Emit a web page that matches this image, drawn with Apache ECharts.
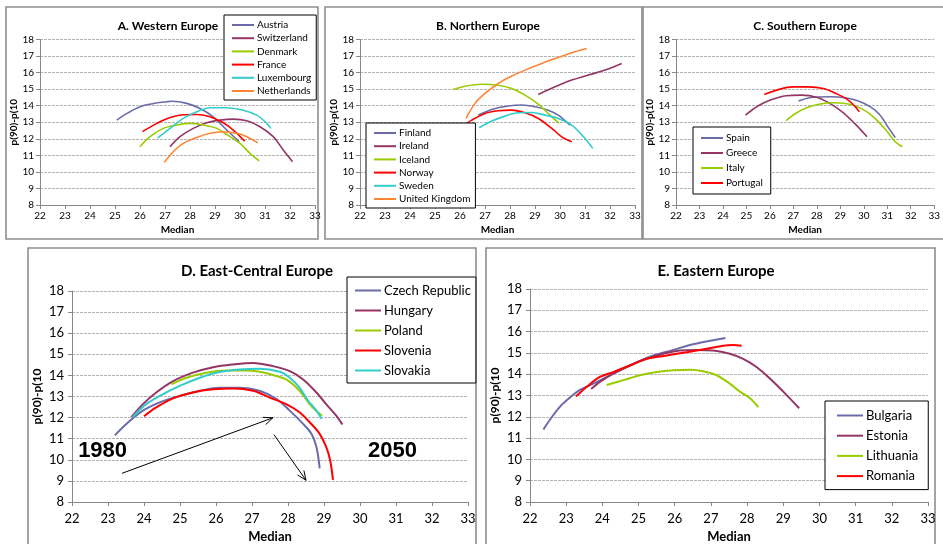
<!DOCTYPE html>
<html><head><meta charset="utf-8">
<script src="https://cdn.jsdelivr.net/npm/echarts@6/dist/echarts.min.js"></script>
<style>html,body{margin:0;padding:0;background:#fff}#c{width:943px;height:544px}</style>
</head><body><div id="c"></div>
<script>
// ---- data: [median, p90-p10] ----
const panelTitles = ["A. Western Europe","B. Northern Europe","C. Southern Europe","D. East-Central Europe","E. Eastern Europe"];
const xTicks = [22,33];
const yTicks = [8,18];
const countriesA = ["Austria","Switzerland","Denmark","France","Luxembourg","Netherlands"];
const countriesB = ["Finland","Ireland","Iceland","Norway","Sweden","United Kingdom"];
const countriesC = ["Spain","Greece","Italy","Portugal"];
const countriesD = ["Czech Republic","Hungary","Poland","Slovenia","Slovakia"];
const countriesE = ["Bulgaria","Estonia","Lithuania","Romania"];

const austria = [[25.07,13.13],[25.5,13.55],[26,13.94],[26.5,14.12],[27.07,14.24],[27.3,14.27],[27.87,14.14],[28.4,13.83],[28.93,13.33],[29.47,12.53],[29.97,11.82]];
const switzerland = [[27.2,11.52],[27.6,12.13],[28.13,12.63],[28.67,12.97],[29.2,13.13],[29.73,13.19],[30.27,13.09],[30.8,12.73],[31.33,12.13],[31.73,11.32],[32.1,10.62]];
const denmark = [[26,11.52],[26.4,12.13],[26.93,12.63],[27.47,12.83],[28,12.93],[28.53,12.83],[29.07,12.63],[29.6,12.13],[30,11.72],[30.4,11.12],[30.77,10.66]];
const france = [[26.1,12.43],[26.67,12.93],[27.2,13.29],[27.73,13.45],[28.27,13.47],[28.8,13.33],[29.33,12.97],[29.73,12.53],[30.19,11.86]];
const luxembourg = [[26.71,12.06],[27.2,12.63],[27.73,13.23],[28.27,13.63],[28.8,13.88],[29.47,13.88],[30.13,13.73],[30.67,13.43],[31.07,12.93],[31.23,12.63]];
const netherlands = [[26.97,10.58],[27.33,11.22],[27.73,11.72],[28.27,12.08],[28.8,12.33],[29.33,12.43],[29.87,12.33],[30.27,12.13],[30.71,11.76]];

const finland = [[26.73,13.43],[27.27,13.77],[27.93,13.98],[28.47,14.04],[29,13.94],[29.53,13.73],[29.93,13.43],[30.4,12.82]];
const ireland = [[29.13,14.68],[29.8,15.14],[30.47,15.55],[31.13,15.85],[31.8,16.15],[32.47,16.55]];
const iceland = [[25.73,14.98],[26.2,15.18],[26.87,15.3],[27.53,15.24],[28.07,15.04],[28.6,14.64],[29.13,14.1],[29.53,13.53],[29.96,12.93]];
const norway = [[26,12.67],[26.47,13.13],[27,13.53],[27.53,13.69],[28.07,13.73],[28.6,13.57],[29.13,13.23],[29.67,12.63],[30.07,12.12],[30.47,11.82]];
const sweden = [[26.77,12.67],[27.27,13.07],[27.8,13.37],[28.33,13.57],[28.87,13.59],[29.4,13.43],[29.93,13.23],[30.47,12.83],[31,12.02],[31.31,11.42]];
const unitedKingdom = [[26.24,13.23],[26.6,14.14],[27,14.74],[27.53,15.34],[28.07,15.79],[28.6,16.15],[29.27,16.55],[29.93,16.91],[30.6,17.26],[31.07,17.46]];

const spain = [[27.22,14.28],[27.75,14.5],[28.55,14.54],[29.21,14.48],[29.74,14.3],[30.27,13.94],[30.67,13.47],[31.07,12.63],[31.34,12.08]];
const greece = [[24.96,13.43],[25.49,13.98],[26.02,14.34],[26.69,14.6],[27.35,14.64],[28.02,14.5],[28.55,14.14],[29.08,13.63],[29.61,12.93],[30.14,12.12]];
const italy = [[26.69,13.09],[27.09,13.53],[27.62,13.9],[28.15,14.1],[28.68,14.18],[29.34,14.1],[29.88,13.84],[30.41,13.33],[30.94,12.53],[31.34,11.82],[31.64,11.52]];
const portugal = [[25.76,14.68],[26.29,14.94],[26.95,15.14],[27.62,15.14],[28.28,15.04],[28.81,14.74],[29.28,14.4],[29.61,13.98],[29.81,13.63]];

const czechRepublic = [[23.19,11.16],[23.51,11.7],[23.97,12.33],[24.44,12.72],[24.99,13.03],[25.55,13.27],[26.1,13.42],[26.66,13.42],[27.21,13.27],[27.68,12.88],[28.05,12.33],[28.42,11.7],[28.65,11.23],[28.79,10.61],[28.88,9.59]];
const hungary = [[23.65,12.02],[23.97,12.64],[24.34,13.19],[24.81,13.73],[25.36,14.13],[25.92,14.39],[26.47,14.52],[27.03,14.59],[27.58,14.44],[28.05,14.2],[28.42,13.81],[28.79,13.19],[29.06,12.64],[29.34,12.09],[29.51,11.67]];
const poland = [[24.76,13.58],[25.18,13.89],[25.73,14.13],[26.29,14.23],[26.84,14.23],[27.21,14.17],[27.58,14.02],[27.95,13.81],[28.32,13.27],[28.6,12.64],[28.83,12.25],[28.95,12.09]];
const slovenia = [[24,12.06],[24.34,12.48],[24.81,12.91],[25.36,13.19],[25.92,13.34],[26.47,13.38],[27.03,13.27],[27.49,12.95],[27.95,12.64],[28.32,12.25],[28.6,11.78],[28.88,11.23],[29.06,10.61],[29.17,9.98],[29.25,9.05]];
const slovakia = [[23.68,12.02],[24.06,12.64],[24.44,13.03],[24.99,13.5],[25.55,13.89],[26.1,14.16],[26.66,14.28],[27.21,14.31],[27.77,14.17],[28.05,13.89],[28.32,13.42],[28.56,12.8],[28.79,12.33],[28.93,11.94]];

const bulgaria = [[22.37,11.4],[22.55,11.86],[22.83,12.48],[23.1,12.9],[23.38,13.26],[23.75,13.56],[24.12,13.87],[24.49,14.18],[24.95,14.57],[25.41,14.88],[25.96,15.14],[26.42,15.37],[26.88,15.54],[27.4,15.7]];
const estonia = [[23.69,13.3],[23.93,13.64],[24.3,14.03],[24.76,14.41],[25.22,14.72],[25.68,14.96],[26.14,15.11],[26.6,15.14],[27.06,15.11],[27.52,14.96],[27.89,14.72],[28.26,14.34],[28.63,13.8],[29,13.18],[29.44,12.4]];
const lithuania = [[24.12,13.49],[24.58,13.72],[25.04,13.95],[25.5,14.1],[25.96,14.18],[26.42,14.21],[26.79,14.14],[27.16,13.95],[27.52,13.56],[27.8,13.18],[28.08,12.87],[28.31,12.45]];
const romania = [[23.27,12.95],[23.57,13.41],[23.93,13.87],[24.3,14.1],[24.76,14.41],[25.22,14.72],[25.78,14.88],[26.33,15.03],[26.88,15.19],[27.34,15.34],[27.62,15.37],[27.85,15.34]];

// annotations in panel D (data coords)
const arrowUp = [[23.39,9.36],[27.58,11.99]];
const arrowDown = [[27.61,11.19],[28.5,9.03]];
const yearLabels = ["1980","2050"];

// ---- layout ----
const palette6 = ["#6B6BAB","#953565","#99CC00","#FF0000","#33CCCC","#FF8533"];
const groups = [
  {names: countriesA, data:[austria,switzerland,denmark,france,luxembourg,netherlands]},
  {names: countriesB, data:[finland,ireland,iceland,norway,sweden,unitedKingdom]},
  {names: countriesC, data:[spain,greece,italy,portugal]},
  {names: countriesD, data:[czechRepublic,hungary,poland,slovenia,slovakia]},
  {names: countriesE, data:[bulgaria,estonia,lithuania,romania]}
];
const grids = [
  {left:40, top:39.5, width:275, height:165.5},
  {left:360, top:39.5, width:275, height:165.5},
  {left:676, top:39.5, width:276, height:165.5},
  {left:72, top:291, width:396, height:213},
  {left:530, top:289, width:398, height:216}
];
const small = [true,true,true,false,false];
const FONT = "Lato, 'Open Sans', sans-serif";

const xAxes = [], yAxes = [], series = [], titles = [], legends = [];
const titlePos = [[163,15],[483,15],[800,15],[252,259],[711,259]];
const legendCfg = [
  {left:224, top:15, itemGap:3.2, padding:[5,5,4,8]},
  {left:366, top:123, itemGap:3.2, padding:[5,5,4,8]},
  {left:693, top:127, itemGap:5, padding:[6,8,6,8]},
  {left:347, top:277, itemGap:7, padding:[7,5,6,8]},
  {left:825, top:401, itemGap:7.2, padding:[8,10,7,12]}
];
groups.forEach((g,i)=>{
  const s = small[i];
  const fs = s ? 10 : 13;
  xAxes.push({gridIndex:i, type:'value', min:xTicks[0], max:xTicks[1], interval:1,
    name:'Median', nameLocation:'middle', nameGap: s?20:28,
    nameTextStyle:{fontFamily:FONT, fontWeight:'bold', fontSize: s?10:13, color:'#000'},
    axisLine:{lineStyle:{color:'#888', width:1}}, axisTick:{show:true, length:4, lineStyle:{color:'#888'}},
    axisLabel:{fontFamily:FONT, fontSize:fs, color:'#000', margin: s?6:10},
    splitLine:{show:false}});
  yAxes.push({gridIndex:i, type:'value', min:yTicks[0], max:yTicks[1], interval:1,
    name:'p(90)-p(10', nameLocation:'middle', nameGap: s?19:29,
    nameTextStyle:{fontFamily:FONT, fontWeight:'bold', fontSize: s?10:12, color:'#000'},
    axisLine:{show:true, lineStyle:{color:'#888', width:1}}, axisTick:{show:true, length:4, lineStyle:{color:'#888'}},
    axisLabel:{fontFamily:FONT, fontSize:fs, color:'#000', margin: s?6:8},
    splitLine:{show:true, lineStyle:{color:'#b4b4b4', type:[3,1], width:1}}});
  titles.push({text:panelTitles[i], left:titlePos[i][0], top:titlePos[i][1], textAlign:'center',
    textStyle:{fontFamily:FONT, fontWeight:'bold', fontSize: s?12:15, color:'#000'}});
  legends.push(Object.assign({data:g.names, orient:'vertical', icon:'rect',
    itemWidth: s?22:26, itemHeight:2,
    borderColor:'#000', borderWidth:1, backgroundColor:'#fff',
    textStyle:{fontFamily:FONT, fontSize: s?10:13, color:'#000', padding:[0,0,0,-2]},
    selectedMode:false}, legendCfg[i]));
  g.names.forEach((n,k)=>{
    series.push({name:n, type:'line', xAxisIndex:i, yAxisIndex:i, data:g.data[k],
      showSymbol:false, smooth:0.35, color:palette6[k],
      lineStyle:{width: s?1.6:2, color:palette6[k]}, z: 3});
  });
});

const chart = echarts.init(document.getElementById('c'), null, {renderer:'canvas'});
const borderStyle = {fill:'none', stroke:'#8e8e8e', lineWidth:1.6};
const boxes = [[6,7,312,232],[325,7,317,232],[643,7,310,232],[28,248,448,300],[486,248,449,300]];
chart.setOption({
  animation:false,
  backgroundColor:'#fff',
  title:titles, legend:legends, grid:grids, xAxis:xAxes, yAxis:yAxes, series:series
});

// arrows and year labels in panel D
function px(p){ return chart.convertToPixel({gridIndex:3}, p); }
function arrow(a){
  const p0 = px(a[0]), p1 = px(a[1]);
  const ang = Math.atan2(p1[1]-p0[1], p1[0]-p0[0]);
  const L = 10, w = 0.4;
  const h1 = [p1[0]-L*Math.cos(ang-w), p1[1]-L*Math.sin(ang-w)];
  const h2 = [p1[0]-L*Math.cos(ang+w), p1[1]-L*Math.sin(ang+w)];
  return [
    {type:'line', shape:{x1:p0[0],y1:p0[1],x2:p1[0],y2:p1[1]}, style:{stroke:'#000', lineWidth:1}, z:10},
    {type:'polyline', shape:{points:[h1,p1,h2]}, style:{stroke:'#000', lineWidth:1, fill:'none'}, z:10}
  ];
}
const lab1 = px([22.85,10.44]), lab2 = px([30.9,10.44]);
const graphics = boxes.map(b=>({type:'rect', shape:{x:b[0],y:b[1],width:b[2],height:b[3]}, style:borderStyle, z:0, silent:true}))
  .concat(arrow(arrowUp), arrow(arrowDown), [
  {type:'text', x:lab1[0], y:lab1[1], style:{text:yearLabels[0], font:"bold 22px 'Liberation Sans', Arial, sans-serif", fill:'#000', align:'center', verticalAlign:'middle'}, z:10},
  {type:'text', x:lab2[0], y:lab2[1], style:{text:yearLabels[1], font:"bold 22px 'Liberation Sans', Arial, sans-serif", fill:'#000', align:'center', verticalAlign:'middle'}, z:10}
]);
chart.setOption({graphic: graphics});
</script></body></html>
